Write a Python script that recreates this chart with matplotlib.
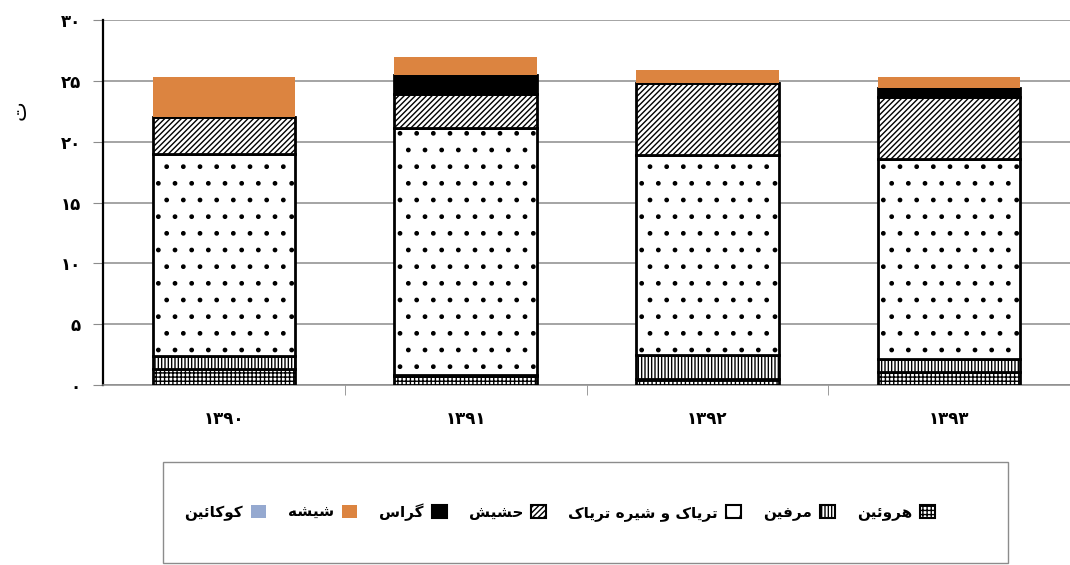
import matplotlib
matplotlib.use("Agg")
import matplotlib.pyplot as plt
from matplotlib.patches import Rectangle, Patch
import numpy as np

# ---------------- data ----------------
years = ["۱۳۹۰", "۱۳۹۱", "۱۳۹۲", "۱۳۹۳"]
series_names = ["هروئین", "مرفین", "تریاک و شیره تریاک", "حشیش", "گراس", "شیشه", "کوکائین"]
heroin = [1.3, 0.7, 0.5, 1.1]
morphine = [1.1, 0.1, 2.0, 1.0]
opium = [16.6, 20.3, 16.4, 16.5]
hashish = [3.0, 2.8, 5.9, 5.1]
gras = [0.0, 1.6, 0.0, 0.7]
shisheh = [3.3, 1.5, 1.1, 0.9]
cocaine = [0.0, 0.0, 0.0, 0.0]
yticks = [0, 5, 10, 15, 20, 25, 30]
ylabel = "ت"

# ---------------- minimal Arabic shaping ----------------
FORMS = {
    "ا": ("\uFE8D", "\uFE8E", None, None),
    "ر": ("\uFEAD", "\uFEAE", None, None),
    "و": ("\uFEED", "\uFEEE", None, None),
    "ت": ("\uFE95", "\uFE96", "\uFE97", "\uFE98"),
    "ح": ("\uFEA1", "\uFEA2", "\uFEA3", "\uFEA4"),
    "س": ("\uFEB1", "\uFEB2", "\uFEB3", "\uFEB4"),
    "ش": ("\uFEB5", "\uFEB6", "\uFEB7", "\uFEB8"),
    "ف": ("\uFED1", "\uFED2", "\uFED3", "\uFED4"),
    "م": ("\uFEE1", "\uFEE2", "\uFEE3", "\uFEE4"),
    "ن": ("\uFEE5", "\uFEE6", "\uFEE7", "\uFEE8"),
    "ه": ("\uFEE9", "\uFEEA", "\uFEEB", "\uFEEC"),
    "ئ": ("\uFE89", "\uFE8A", "\uFE8B", "\uFE8C"),
    "ی": ("\uFBFC", "\uFBFD", "\uFBFE", "\uFBFF"),
    "ک": ("\uFB8E", "\uFB8F", "\uFB90", "\uFB91"),
    "گ": ("\uFB92", "\uFB93", "\uFB94", "\uFB95"),
}


def dual(c):
    return c in FORMS and FORMS[c][2] is not None


def joining(c):
    return c in FORMS


def shape(s):
    out = []
    for i, c in enumerate(s):
        if c not in FORMS:
            out.append(c)
            continue
        prev_c = s[i - 1] if i > 0 else " "
        next_c = s[i + 1] if i + 1 < len(s) else " "
        p = dual(prev_c)
        n = dual(c) and joining(next_c)
        iso, fin, ini, med = FORMS[c]
        if p and n:
            out.append(med)
        elif p:
            out.append(fin)
        elif n:
            out.append(ini)
        else:
            out.append(iso)
    return "".join(out)[::-1]


def fa_digits(n):
    return "".join("۰۱۲۳۴۵۶۷۸۹"[int(d)] for d in str(n))


# ---------------- figure ----------------
plt.rcParams["font.family"] = ["DejaVu Sans"]
plt.rcParams["hatch.linewidth"] = 1.0

fig = plt.figure(figsize=(10.7, 5.65), dpi=100)
ax = fig.add_axes([103 / 1070, 180 / 565, 967 / 1070, 365 / 565])

x = np.arange(len(years))
width = 0.59
series = [heroin, morphine, opium, hashish, gras, shisheh, cocaine]
hatches = ["++++", "|||||", ".", "//////", None, None, None]
faces = ["white", "white", "white", "white", "black", "#DC8440", "#95A9D0"]
edges = ["black", "black", "black", "black", "black", "none", "none"]
lws = [2, 2, 2, 2, 2, 0, 0]

bottom = np.zeros(len(years))
for vals, h, fc, ec, lw in zip(series, hatches, faces, edges, lws):
    vals = np.array(vals)
    ax.bar(x, vals, width, bottom=bottom, color=fc, edgecolor=ec,
           hatch=h, linewidth=lw, zorder=3)
    bottom = bottom + vals

ax.set_xlim(-0.5, len(years) - 0.5)
ax.set_ylim(0, 30)
ax.set_yticks(yticks)
ax.set_yticklabels([fa_digits(v) for v in yticks], fontsize=12, fontweight="bold")
ax.yaxis.grid(True, color="#8c8c8c", linewidth=1.1, zorder=0)
ax.set_axisbelow(True)
ax.tick_params(axis="y", length=7, color="#8c8c8c", pad=9)

ax.set_xticks(x)
ax.set_xticklabels(years, fontsize=12, fontweight="bold")
ax.tick_params(axis="x", which="major", length=0, pad=18)
ax.set_xticks(np.arange(len(years) - 1) + 0.5, minor=True)
ax.tick_params(axis="x", which="minor", length=7, color="#8c8c8c")

for s in ["top", "right"]:
    ax.spines[s].set_visible(False)
ax.spines["left"].set_color("black")
ax.spines["left"].set_linewidth(1.6)
ax.spines["bottom"].set_color("#8c8c8c")
ax.spines["bottom"].set_linewidth(1.1)

fig.text(20 / 1070, 1 - 110 / 565, ylabel, rotation=90, fontsize=15,
         ha="center", va="center")

# ---------------- legend ----------------
fig.patches.append(Rectangle((163 / 1070, 2 / 565), 845 / 1070, 101 / 565,
                             transform=fig.transFigure, fill=False,
                             edgecolor="#8c8c8c", linewidth=1.0))
handles = []
for name, h, fc, ec in zip(series_names, hatches, faces, edges):
    handles.append(Patch(facecolor=fc, edgecolor="black" if ec != "none" else "none",
                         hatch=h, linewidth=1.5 if ec != "none" else 0,
                         label=shape(name)))
handles = handles[::-1]
fig.legend(handles=handles, loc="center", bbox_to_anchor=(560 / 1070, 1 - 512 / 565),
           ncol=7, frameon=False, markerfirst=False, handlelength=1.0,
           handleheight=1.0, handletextpad=0.5, columnspacing=1.45,
           prop={"size": 11, "weight": "bold"})

fig.savefig("out.png", dpi=100)
